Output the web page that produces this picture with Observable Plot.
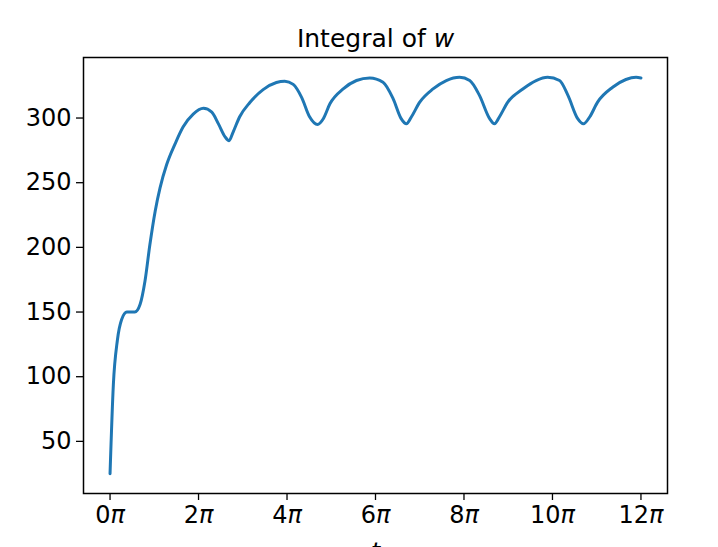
<!DOCTYPE html>
<html>
<head>
<meta charset="utf-8">
<script src="https://cdn.jsdelivr.net/npm/d3@7"></script>
<script src="https://cdn.jsdelivr.net/npm/@observablehq/plot@0.6"></script>
<style>
  html, body { margin: 0; padding: 0; background: white; }
  #chart { width: 718px; height: 547px; overflow: hidden; }
</style>
</head>
<body>
<div id="chart"></div>
<script>
// t in units of π
const tValues = [0, 0.075, 0.165, 0.26, 0.38, 0.56, 0.68, 0.79, 0.90, 1.02, 1.13, 1.28, 1.47, 1.65, 1.88, 2.11, 2.30, 2.45, 2.60, 2.69, 2.78, 2.93, 3.16, 3.46, 3.76, 3.95, 4.14, 4.33, 4.51, 4.69, 4.82, 4.97, 5.27, 5.57, 5.87, 6.17, 6.40, 6.58, 6.70, 6.81, 7.00, 7.30, 7.60, 7.90, 8.13, 8.35, 8.58, 8.69, 8.80, 8.99, 9.33, 9.63, 9.89, 10.16, 10.35, 10.57, 10.70, 10.84, 11.02, 11.36, 11.66, 11.89, 12.0];
const wIntegral = [25, 94, 128, 144, 150, 150, 156, 174, 202, 228, 246, 264, 280, 293, 303, 307.5, 304.5, 295.5, 285.5, 282.5, 289, 301, 312, 322, 327.5, 328.5, 326, 316, 301, 295, 299.5, 311, 322.5, 329, 331, 327.7, 314.8, 299.5, 295.5, 300.8, 312.3, 322.5, 329, 331.5, 329, 317.5, 299.5, 295.5, 300.8, 312.3, 322.5, 329, 331.5, 329, 317.5, 299.5, 295.5, 300.8, 312.3, 323.8, 329.8, 331.5, 331];
const xTicks = [0, 2, 4, 6, 8, 10, 12];
const yTicks = [50, 100, 150, 200, 250, 300];
const titleText = "Integral of ";
const titleVar = "w";
const xLabel = "t";

const data = tValues.map((t, i) => ({t, y: wIntegral[i]}));

const plot = Plot.plot({
  width: 718,
  height: 547,
  marginLeft: 83,
  marginRight: 51,
  marginTop: 57,
  marginBottom: 54,
  style: {fontFamily: "DejaVu Sans", fontSize: "24px", color: "black", background: "white"},
  x: {domain: [-0.6, 12.6], ticks: xTicks},
  y: {domain: [9.7, 346.8], ticks: yTicks},
  marks: [
    Plot.axisX({ticks: xTicks, tickSize: 7, tickPadding: 5, tickFormat: d => `${d}π`, label: null, fontSize: 24, stroke: "black", strokeWidth: 1.3}),
    Plot.axisY({ticks: yTicks, tickSize: 7, tickPadding: 5, label: null, fontSize: 24, stroke: "black", strokeWidth: 1.3}),
    Plot.line(data, {x: "t", y: "y", stroke: "#1f77b4", strokeWidth: 3, curve: "monotone-x"}),
    Plot.frame({stroke: "black", strokeWidth: 1.5}),
    Plot.text([titleText], {text: d => d, frameAnchor: "top", dy: -11, lineAnchor: "bottom", fontSize: 25, className: "ttl"}),
    Plot.text([xLabel], {text: d => d, frameAnchor: "bottom", dy: 66, lineAnchor: "bottom", fontSize: 24, fontStyle: "italic"})
  ]
});
document.getElementById("chart").appendChild(plot);

// italic π in tick labels, italic variable in title (as in mathtext)
const svg = d3.select(plot);
svg.selectAll("[aria-label='x-axis tick label'] text").each(function() {
  const el = d3.select(this);
  const s = this.textContent.replace("π", "");
  el.text(null);
  el.append("tspan").text(s);
  el.append("tspan").attr("font-style", "italic").text("π");
});
svg.selectAll(".ttl text").each(function() {
  const el = d3.select(this);
  el.append("tspan").attr("font-style", "italic").text(titleVar);
});
</script>
</body>
</html>
